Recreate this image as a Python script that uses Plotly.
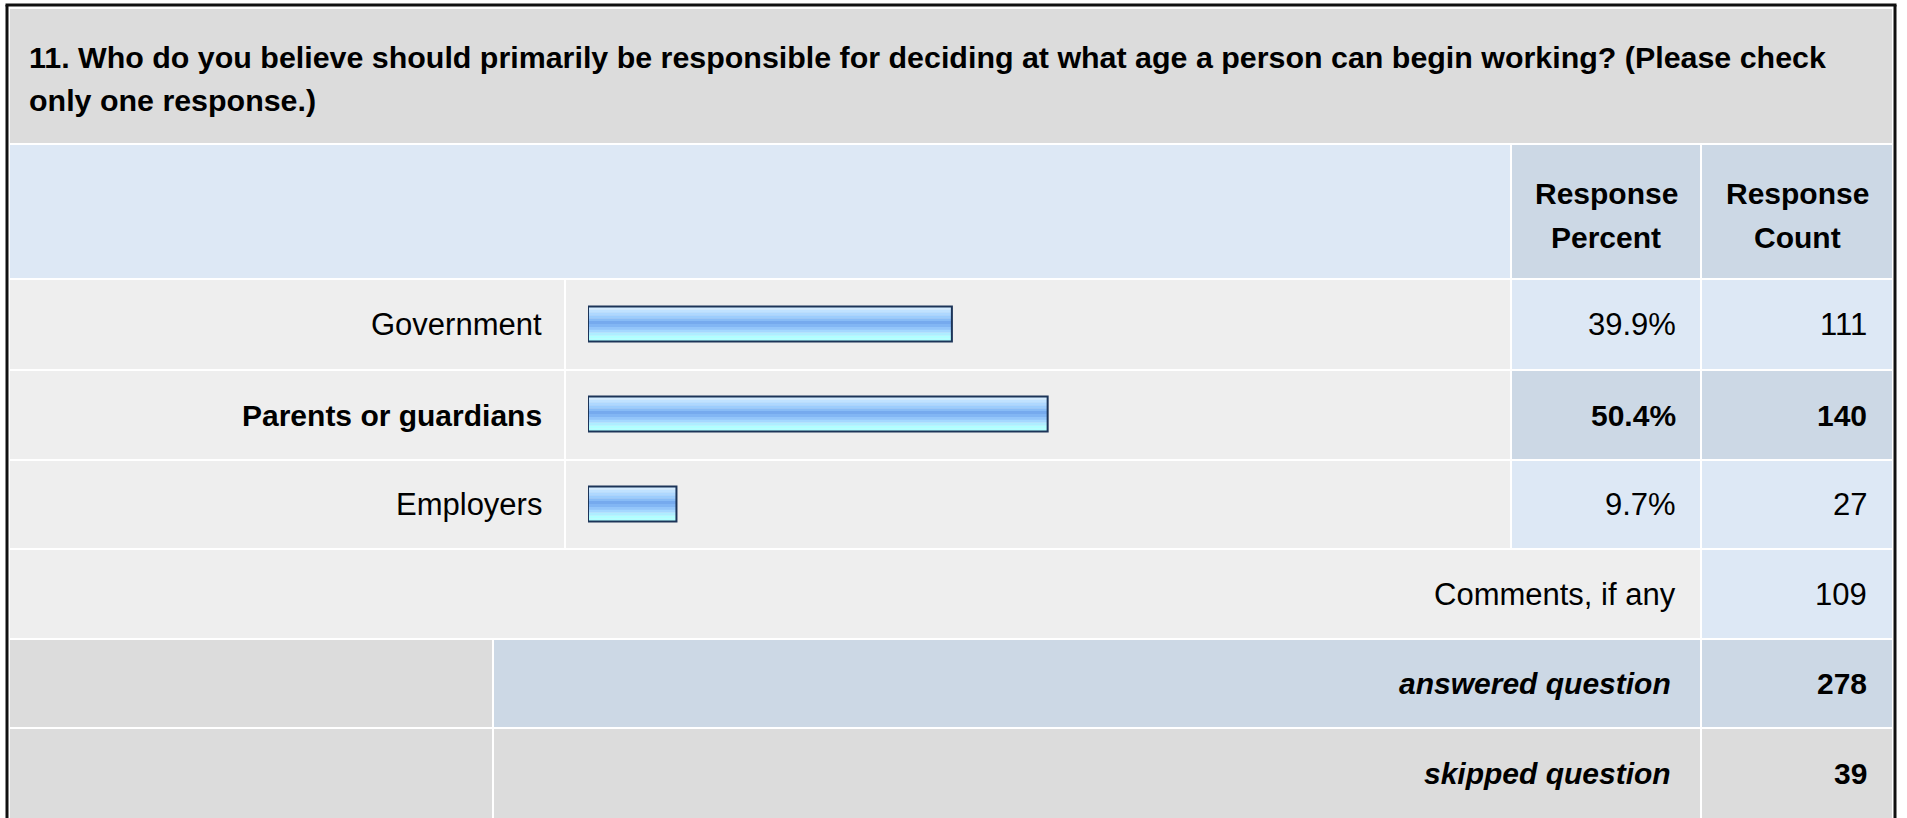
import plotly.graph_objects as go

# ---------------- data ----------------
question = ["11. Who do you believe should primarily be responsible for deciding at what age a person can begin working? (Please check",
            "only one response.)"]
categories = ["Government", "Parents or guardians", "Employers"]
percents = [39.9, 50.4, 9.7]
counts = [111, 140, 27]
header_pct = ["Response", "Percent"]
header_cnt = ["Response", "Count"]
comments_label = "Comments, if any"
comments_count = 109
answered_label = "answered question"
answered_count = 278
skipped_label = "skipped question"
skipped_count = 39

# ---------------- layout helpers ----------------
W, H = 1907, 818
FONT = "Liberation Sans, Arial, Helvetica, sans-serif"
FS = 31
FSB = 30
FST = 30.4


def X(p):
    return p / W


def Y(p):
    return 1 - p / H


C_TITLE = "#dcdcdc"
C_LBLUE = "#dde8f5"
C_DBLUE = "#ccd8e5"
C_LGREY = "#eeeeee"
C_GREY = "#dcdcdc"

shapes = []


def cell(x0, x1, y0, y1, color):
    shapes.append(dict(type="rect", xref="paper", yref="paper",
                       x0=X(x0), x1=X(x1), y0=Y(y1), y1=Y(y0),
                       fillcolor=color, line=dict(width=0), layer="below"))


annotations = []


def text(s, x, y, anchor="right", bold=False, italic=False, size=None):
    if size is None:
        size = FSB if bold else FS
    if bold:
        s = "<b>" + s + "</b>"
    if italic:
        s = "<i>" + s + "</i>"
    annotations.append(dict(text=s, xref="paper", yref="paper", x=X(x), y=Y(y),
                            xanchor=anchor, yanchor="middle", showarrow=False,
                            font=dict(family=FONT, size=size, color="#000000")))


# column edges (px)
COL_LABEL = (10, 564)
COL_BAR = (566, 1510)
COL_PCT = (1512, 1700)
COL_CNT = (1702, 1892)

# row edges (px)
ROW_TITLE = (9, 143)
ROW_HEAD = (145, 278)
data_rows = [(280, 369), (371, 459), (461, 548)]
ROW_COMM = (550, 638)
ROW_ANS = (640, 727)
ROW_SKIP = (729, 830)

# title
cell(COL_LABEL[0], COL_CNT[1], *ROW_TITLE, C_TITLE)
text(question[0], 27, 57, anchor="left", bold=True, size=FST)
text(question[1], 27, 100, anchor="left", bold=True, size=FST)

# header
cell(COL_LABEL[0], COL_BAR[1], *ROW_HEAD, C_LBLUE)
cell(*COL_PCT, *ROW_HEAD, C_DBLUE)
cell(*COL_CNT, *ROW_HEAD, C_DBLUE)
pc = (COL_PCT[0] + COL_PCT[1]) / 2
cc = (COL_CNT[0] + COL_CNT[1]) / 2
text(header_pct[0], pc, 193, anchor="center", bold=True)
text(header_pct[1], pc, 237, anchor="center", bold=True)
text(header_cnt[0], cc, 193, anchor="center", bold=True)
text(header_cnt[1], cc, 237, anchor="center", bold=True)

# data rows
top_idx = counts.index(max(counts))
for i, (cat, p, n) in enumerate(zip(categories, percents, counts)):
    r0, r1 = data_rows[i]
    ym = (r0 + r1) / 2
    hi = (i == top_idx)
    cell(*COL_LABEL, r0, r1, C_LGREY)
    cell(*COL_BAR, r0, r1, C_LGREY)
    cell(*COL_PCT, r0, r1, C_DBLUE if hi else C_LBLUE)
    cell(*COL_CNT, r0, r1, C_DBLUE if hi else C_LBLUE)
    text(cat, 544, ym, bold=hi)
    text(f"{p}%", 1678, ym, bold=hi)
    text(str(n), 1869, ym, bold=hi)

# comments row
cell(COL_LABEL[0], COL_PCT[1], *ROW_COMM, C_LGREY)
cell(*COL_CNT, *ROW_COMM, C_LBLUE)
text(comments_label, 1678, sum(ROW_COMM) / 2)
text(str(comments_count), 1869, sum(ROW_COMM) / 2)

# answered row
cell(10, 492, *ROW_ANS, C_GREY)
cell(494, COL_PCT[1], *ROW_ANS, C_DBLUE)
cell(*COL_CNT, *ROW_ANS, C_DBLUE)
text(answered_label, 1673, sum(ROW_ANS) / 2, bold=True, italic=True)
text(str(answered_count), 1869, sum(ROW_ANS) / 2, bold=True)

# skipped row
cell(10, 492, *ROW_SKIP, C_GREY)
cell(494, COL_PCT[1], *ROW_SKIP, C_GREY)
cell(*COL_CNT, *ROW_SKIP, C_GREY)
text(skipped_label, 1673, 773, bold=True, italic=True)
text(str(skipped_count), 1869, 773, bold=True)

# outer frame
for (x0, y0, x1, y1) in [(7, 5, 7, 830), (5.5, 5, 1896.5, 5), (1895, 5, 1895, 830)]:
    shapes.append(dict(type="line", xref="paper", yref="paper",
                       x0=X(x0), x1=X(x1), y0=Y(y0), y1=Y(y1),
                       line=dict(color="#111111", width=3), layer="above"))

# ---------------- bars (striped gradient) ----------------
BW = 0.39
stripe_colors = ["#d4ecff", "#c0e2ff", "#aed8ff", "#9ccdfd", "#88bcf6", "#76aaee",
                 "#82b6f4", "#94c6fa", "#a4d8ff", "#aeeeff", "#b0ffff", "#b0ffff"]
n_s = len(stripe_colors)
ws = BW / n_s

fig = go.Figure()
for k, col in enumerate(stripe_colors):
    fig.add_trace(go.Bar(
        x=percents, y=categories, orientation="h",
        width=ws * 1.02, offset=-BW / 2 + k * ws,
        marker=dict(color=col, line=dict(width=0)),
        hoverinfo="skip", showlegend=False))
fig.add_trace(go.Bar(
    x=percents, y=categories, orientation="h",
    width=BW, offset=-BW / 2,
    marker=dict(color="rgba(0,0,0,0)", line=dict(color="#1c3458", width=2)),
    hovertemplate="%{y}: %{x}%<extra></extra>", showlegend=False))

fig.update_layout(
    width=W, height=H,
    margin=dict(l=0, r=0, t=0, b=0),
    paper_bgcolor="#ffffff", plot_bgcolor="rgba(0,0,0,0)",
    barmode="overlay",
    xaxis=dict(domain=[X(588), X(1500)], range=[0, 100], visible=False, fixedrange=True),
    yaxis=dict(domain=[Y(549), Y(279)], range=[2.5, -0.5], type="category",
               categoryorder="array", categoryarray=categories,
               visible=False, fixedrange=True),
    shapes=shapes, annotations=annotations,
    font=dict(family=FONT),
)

fig.write_html("out.html", config={"displayModeBar": False},
               post_script="document.body.style.margin='0px';document.body.style.overflow='hidden';")
